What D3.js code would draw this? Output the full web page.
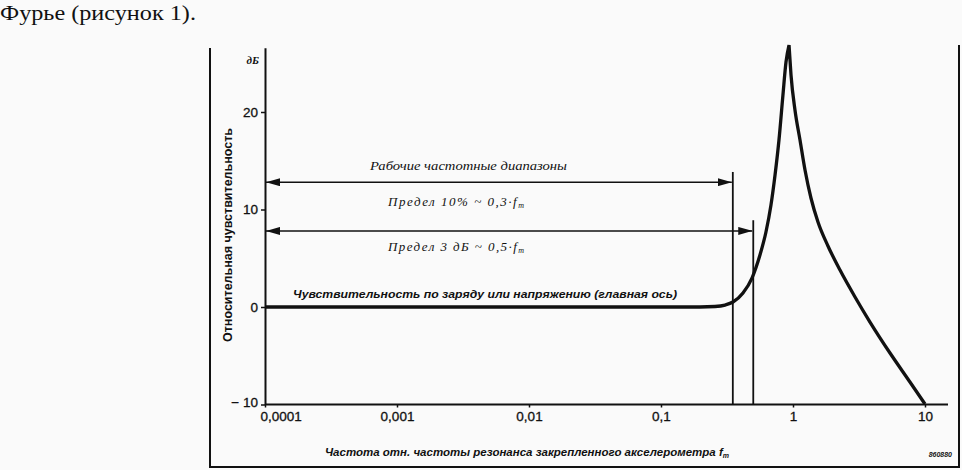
<!DOCTYPE html>
<html><head><meta charset="utf-8">
<script src="https://cdn.jsdelivr.net/npm/d3@7"></script>
<style>
html,body{margin:0;padding:0;background:#fafafa;}
svg{display:block;}
text{fill:#111;}
</style></head>
<body>
<svg id="c" width="962" height="470"></svg>
<script>
// ---- data ----
// rising branch (up to the resonance peak)
const freqRise = [0.0001, 0.001, 0.01, 0.1, 0.197, 0.2565, 0.3055, 0.351, 0.418, 0.489, 0.562, 0.624, 0.681, 0.731, 0.783, 0.839, 0.885, 0.933];
const dbRise   = [0, 0, 0, 0, 0, 0.05, 0.2, 0.51, 1.44, 2.97, 5.33, 7.69, 10.46, 13.54, 17.13, 21.74, 25.13, 26.87];
// falling branch (after the peak)
const freqFall = [0.933, 0.966, 1.035, 1.13, 1.233, 1.368, 1.546, 1.84, 2.27, 2.95, 3.83, 5.43, 7.69, 10];
const dbFall   = [26.87, 23.79, 20.21, 17.13, 14.05, 11.18, 8.72, 6.26, 3.79, 1.03, -1.54, -4.72, -7.69, -9.95];
const xTicks = [0.0001, 0.001, 0.01, 0.1, 1, 10];
const xTickLabels = ["0,0001", "0,001", "0,01", "0,1", "1", "10"];
const yTicks = [-10, 0, 10, 20];
const yTickLabels = ["− 10", "0", "10", "20"];
const limitFreq = [0.35, 0.5];        // vertical limit lines
const limitTopDb = [13.85, 8.9];      // their top ends
const arrowDb = [12.8, 7.8];          // arrow heights
const limitLabelDb = [10.8, 6.2];     // label heights
const limitLabels = ["Предел 10% ~ 0,3·f", "Предел 3 дБ ~ 0,5·f"];
const rangeTitle = "Рабочие частотные диапазоны";
const curveLabel = "Чувствительность по заряду или напряжению (главная ось)";
const yTitle = "Относительная чувствительность";
const xTitle = "Частота отн. частоты резонанса закрепленного акселерометра f";
const unitLabel = "дБ";
const caption = "Фурье (рисунок 1).";
const figCode = "860880";

// ---- drawing ----
const svg = d3.select("#c");
const x = d3.scaleLog().domain([1e-4, 10]).range([265, 925]);
const y = d3.scaleLinear().domain([-10, 20]).range([404.5, 112]);
const yTop = 26.6;
const SANS = "Liberation Sans, Arial, sans-serif";
const SERIF = "Liberation Serif, serif";

svg.append("text").attr("x", 0).attr("y", 20)
  .attr("font-family", SERIF).attr("font-size", 22)
  .attr("textLength", 196).attr("lengthAdjust", "spacingAndGlyphs")
  .text(caption);

// frame (open top)
svg.append("path")
  .attr("d", `M210,48 V467 H959 V45`)
  .attr("fill", "none").attr("stroke", "#111").attr("stroke-width", 2);

const defs = svg.append("defs");
defs.append("marker").attr("id", "ah").attr("viewBox", "0 0 14 8")
  .attr("refX", 14).attr("refY", 4).attr("markerWidth", 14).attr("markerHeight", 8)
  .attr("markerUnits", "userSpaceOnUse").attr("orient", "auto-start-reverse")
  .append("path").attr("d", "M0,0 L14,4 L0,8 Z").attr("fill", "#111");

// y axis
const yAxisScale = y.copy().domain([-10, yTop]).range([y(-10), y(yTop)]);
const gy = svg.append("g").attr("transform", "translate(265,0)")
  .call(d3.axisLeft(yAxisScale).tickValues(yTicks)
    .tickFormat(d => yTickLabels[yTicks.indexOf(d)])
    .tickSize(4).tickSizeOuter(0).tickPadding(3));
gy.select(".domain").attr("stroke", "#111").attr("stroke-width", 2);
gy.selectAll(".tick line").attr("stroke", "#111").attr("stroke-width", 1.5);
gy.selectAll(".tick text").attr("font-family", SANS)
  .attr("font-size", 13.5).attr("fill", "#111").attr("stroke", "#111").attr("stroke-width", 0.3)
  .attr("y", d => d === -10 ? -2 : 0);
svg.append("text").attr("x", 259).attr("y", y(yTop) + 16).attr("text-anchor", "end")
  .attr("font-family", SERIF).attr("font-size", 11).attr("font-style", "italic")
  .attr("font-weight", "bold").text(unitLabel);

// x axis
const gx = svg.append("g").attr("transform", `translate(0,${y(-10)})`)
  .call(d3.axisBottom(x).tickValues(xTicks)
    .tickFormat(d => xTickLabels[xTicks.indexOf(d)])
    .tickSize(3).tickSizeOuter(0).tickPadding(4));
gx.select(".domain").remove();
gx.selectAll(".tick line").attr("stroke", "#111").attr("stroke-width", 1.5);
gx.selectAll(".tick text").attr("font-family", SANS)
  .attr("font-size", 13.5).attr("fill", "#111").attr("stroke", "#111").attr("stroke-width", 0.3)
  .attr("text-anchor", d => d === 1e-4 ? "start" : "middle")
  .attr("x", d => d === 1e-4 ? -5 : 0);
svg.append("line").attr("x1", x(1e-4)).attr("x2", 948).attr("y1", y(-10)).attr("y2", y(-10))
  .attr("stroke", "#111").attr("stroke-width", 2);

// axis titles
svg.append("text").attr("transform", `translate(232,235) rotate(-90)`)
  .attr("text-anchor", "middle").attr("font-family", SANS)
  .attr("font-size", 12).attr("font-weight", "bold")
  .attr("textLength", 214).attr("lengthAdjust", "spacingAndGlyphs").text(yTitle);
const xt = svg.append("text").attr("x", 527).attr("y", 456).attr("text-anchor", "middle")
  .attr("font-family", SANS).attr("font-size", 11.5)
  .attr("font-style", "italic").attr("font-weight", "bold").text(xTitle);
xt.append("tspan").attr("font-size", 7).attr("dy", 2).text("m");
svg.append("text").attr("x", 952).attr("y", 457).attr("text-anchor", "end")
  .attr("font-family", SANS).attr("font-size", 7)
  .attr("font-style", "italic").attr("font-weight", "bold").text(figCode);

// limit lines and arrows
limitFreq.forEach((f, i) => {
  svg.append("line").attr("x1", x(f)).attr("x2", x(f)).attr("y1", y(limitTopDb[i])).attr("y2", y(-10))
    .attr("stroke", "#111").attr("stroke-width", 1.8);
  svg.append("line").attr("x1", x(1e-4) + 1).attr("x2", x(f) - 1).attr("y1", y(arrowDb[i])).attr("y2", y(arrowDb[i]))
    .attr("stroke", "#111").attr("stroke-width", 1.6)
    .attr("marker-start", "url(#ah)").attr("marker-end", "url(#ah)");
  const t = svg.append("text").attr("x", 388).attr("y", y(limitLabelDb[i]) + 4)
    .attr("font-family", SERIF).attr("font-size", 13).attr("font-style", "italic")
    .attr("textLength", 136).attr("lengthAdjust", "spacing")
    .text(limitLabels[i]);
  t.append("tspan").attr("font-size", 8).attr("dy", 2).text("m");
});
svg.append("text").attr("x", 370).attr("y", y(arrowDb[0]) - 12)
  .attr("font-family", SERIF).attr("font-size", 13).attr("font-style", "italic")
  .attr("textLength", 197).attr("lengthAdjust", "spacingAndGlyphs")
  .text(rangeTitle);

// sensitivity curve: two branches joined at the resonance cusp
const line = d3.line().x(d => x(d[0])).y(d => y(d[1])).curve(d3.curveMonotoneX);
const rise = freqRise.map((f, i) => [f, dbRise[i]]);
const fall = freqFall.map((f, i) => [f, dbFall[i]]);
const dRise = line(rise);
const dFall = line(fall).replace(/^M[^CLZ]*/, "");
svg.append("path")
  .attr("d", dRise + dFall)
  .attr("fill", "none").attr("stroke", "#111").attr("stroke-width", 3.3)
  .attr("stroke-linejoin", "bevel");
svg.append("text").attr("x", 293).attr("y", y(0) - 9)
  .attr("font-family", SANS).attr("font-size", 11.5)
  .attr("font-style", "italic").attr("font-weight", "bold")
  .attr("textLength", 384).attr("lengthAdjust", "spacingAndGlyphs").text(curveLabel);
</script>
</body></html>
